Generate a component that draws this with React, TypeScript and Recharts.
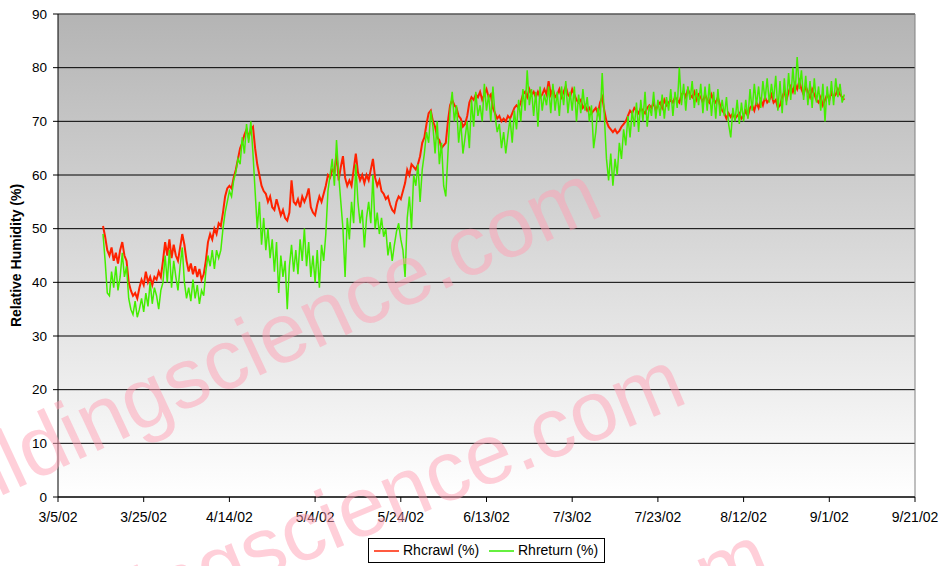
import React from 'react';
import { LineChart, Line, XAxis, YAxis, CartesianGrid, ReferenceLine } from 'recharts';

// half-day readings, first one on 3/15/02 noon (day 10.5 after 3/5/02)
const startDay = 10.5;
const stepDay = 0.5;

const xTicks = [0, 20, 40, 60, 80, 100, 120, 140, 160, 180, 200];
const xTickLabels = ['3/5/02', '3/25/02', '4/14/02', '5/4/02', '5/24/02', '6/13/02', '7/3/02', '7/23/02', '8/12/02', '9/1/02', '9/21/02'];
const yTicks = [0, 10, 20, 30, 40, 50, 60, 70, 80, 90];

const rhCrawl = [
  50.5, 48.5, 46, 45, 46.5, 44, 45.5, 43.5, 46, 47.5,
  45, 44, 40, 38.5, 37.5, 38, 37, 39, 40.5, 39.5,
  42, 40, 41, 39.5, 41, 40.5, 42, 41, 44, 47.5,
  45, 48, 44.5, 47, 45, 44, 46.5, 49, 47, 44,
  42, 43.5, 41.5, 43, 41, 42.5, 40.5, 41.5, 44, 47.5,
  49, 48, 50, 49, 51, 50.5, 53, 56, 57.5, 58,
  57.5, 59.5, 61, 63, 65, 66, 67.5, 68.5, 67, 68.5,
  69, 65, 62, 60, 58, 57, 56.5, 55, 56, 54,
  53.5, 55.5, 54, 52.5, 53.5, 52, 51.5, 53, 59, 55,
  54.5, 55.5, 54, 56, 55, 56, 57.5, 54, 53, 52.5,
  54.5, 56, 55, 56.5, 58, 60, 59.5, 61, 60.5, 64,
  59, 61.5, 63.5, 59.5, 58, 59, 58, 61, 64, 60.5,
  59, 60, 58.5, 60, 59, 61, 63, 59.5, 58, 59,
  57, 56.5, 55.5, 56, 54.5, 53.5, 53, 55, 56, 55.5,
  57, 58.5, 61, 60, 62, 61.5, 61, 62, 63.5, 66,
  67, 69.5, 71.5, 72, 70, 69, 67, 66.5, 65, 65.5,
  66, 70, 73, 74, 73, 72.5, 71, 70.5, 69, 69.5,
  71, 73.5, 74.5, 74, 75, 74.5, 75.5, 74, 75, 76,
  74.5, 75, 72.5, 71.5, 70.5, 71, 70, 70.5, 70, 71,
  70.5, 71.5, 72.5, 73, 72.5, 73.5, 75, 75.5, 74.5, 76,
  75, 75.5, 74.5, 75.5, 74.5, 75, 76, 75, 77.5, 75,
  76, 74.5, 75, 76, 74.5, 75.5, 76.5, 75, 74.5, 76,
  75, 74, 73.5, 74, 72.5, 73, 72, 72.5, 71.5, 72,
  72.5, 71.5, 73.5, 74.5, 72, 70, 69, 68.5, 68, 68.5,
  67.8, 68.2, 69, 69.5, 70, 71, 72, 71.5, 72.5, 72,
  71.5, 72.5, 72, 71.5, 72.5, 73, 72.5, 73.5, 72, 73,
  73.5, 72.5, 74, 73, 73.5, 74, 73.5, 74.5, 74, 73.5,
  75, 75.5, 74.5, 76, 75, 74.5, 75.5, 74, 75, 74.5,
  73.5, 75, 74, 73.5, 75, 74, 73.5, 74.5, 73, 72,
  71.5, 70.5, 71.5, 70.8, 71.5, 70.5, 71, 71.5, 70.5, 71,
  72, 71, 72.5, 73, 72, 73.5, 72.5, 74, 73, 74.5,
  73.5, 74, 75, 73.5, 74, 72.5, 73, 74.5, 75.5, 74,
  75.5, 76.5, 75.5, 77, 76, 77.5, 76, 75, 76.5, 75.5,
  74.5, 76, 75, 74, 73.5, 74.5, 73, 74, 75, 74,
  75.5, 74.5, 75, 76, 75, 74.5, 74,
];

const rhReturn = [
  49, 44, 38, 37.5, 42, 39, 43, 38.5, 41, 45.5,
  41, 43, 37, 35, 34, 36.5, 33.5, 35, 37, 34.5,
  38, 35.5, 40, 36, 39, 37.5, 35, 38.5, 40, 45,
  40, 46, 39, 44, 41, 38.5, 43, 46.5, 40, 37,
  39, 36.5, 40.5, 37, 39.5, 36, 38.5, 37.5, 42, 45,
  43, 46, 42.5, 46, 44.5, 46, 50, 53, 55, 57,
  56, 59, 60.5, 63, 62, 67, 64, 69.5, 66, 70,
  64, 57, 50, 55, 47, 52, 46, 50, 44.5, 48,
  42, 47.5, 38, 45, 41, 44, 35, 43, 47, 42,
  46, 41.5, 48, 44, 50, 43, 47.5, 41, 45, 40,
  46, 39, 47, 44, 49, 57, 60, 63, 58, 66.5,
  60, 55, 50, 41, 52, 48, 55, 51, 62, 55,
  51, 53.5, 46.5, 52, 55, 51, 60, 50, 53, 49,
  52, 48.5, 50, 45, 47.5, 44, 47, 49.5, 51, 48,
  46, 41, 52, 56, 50, 60, 58, 62, 55, 61,
  64, 68, 66, 72, 69, 64, 70, 62, 66, 58,
  56, 64, 72, 75.5, 70, 73, 66, 70, 64, 67,
  70, 65, 74, 69, 75.5, 71, 73, 70, 77, 72,
  75, 70, 76.5, 71, 68, 69.5, 65, 68, 64, 67.5,
  70.5, 66, 72, 68.5, 74, 70, 76, 72, 79.5, 73,
  76, 71, 75.5, 69, 76.5, 72, 75, 73, 76.5, 71.5,
  77, 72, 75.5, 71, 76.5, 73, 77.5, 71.5, 75.5, 72,
  76.5, 70, 75, 71.5, 76, 72, 74.5, 70, 73, 65,
  68, 72.5, 70, 79, 71, 63, 59, 64, 58, 63,
  60, 66, 63, 68.5, 65.5, 71, 67, 72, 69, 73.5,
  68, 74, 70, 75.5, 69, 73, 71, 75.5, 70.5, 74,
  71, 75, 70.5, 74.5, 72, 76, 71, 75.5, 72.5, 80,
  73, 77, 72, 76.5, 74, 77.5, 72.5, 76, 73, 77,
  71.5, 76.5, 72, 77, 71, 75.5, 70.5, 76, 71, 74,
  71, 74.5, 69.5, 67, 72.5, 70, 74, 69.5, 73.5, 70,
  74, 70.5, 76, 72, 77, 73, 76.5, 72.5, 77.5, 74,
  78, 73.5, 77, 74, 78.5, 72, 77.5, 71.5, 78, 73,
  79, 74, 80, 75, 82, 76, 79.5, 74, 78.5, 73,
  77.5, 72.5, 78, 73.5, 76.5, 72, 77, 70, 76.5, 73,
  77.5, 73, 78, 74.5, 77, 73.5, 75,
];

const data = rhCrawl.map((v, i) => ({
  day: startDay + i * stepDay,
  rhcrawl: v,
  rhreturn: rhReturn[i],
}));

const font = '"Liberation Sans", Arial, sans-serif';

function Watermark() {
  const wm = { fontSize: 85, fontFamily: font, fill: '#ff9fb4', fillOpacity: 0.5 };
  return (
    <svg width={943} height={566} style={{ position: 'absolute', left: 0, top: 0, pointerEvents: 'none' }}>
      <text x={606} y={214} textAnchor="end" transform="rotate(-25 606 214)" {...wm}>buildingscience.com</text>
      <text x={690} y={402} textAnchor="end" transform="rotate(-22.5 690 402)" {...wm}>buildingscience.com</text>
      <text x={775} y={577} textAnchor="end" transform="rotate(-22.5 775 577)" {...wm}>buildingscience.com</text>
    </svg>
  );
}

export default function App() {
  return (
    <div style={{ position: 'absolute', left: 0, top: 0, width: 943, height: 566, background: '#fff', fontFamily: font }}>
      <LineChart width={943} height={566} data={data} margin={{ top: 14, right: 28, bottom: 39, left: 0 }}>
        <defs>
          <linearGradient id="bgGrad" x1="0" y1="0" x2="0" y2="1">
            <stop offset="0%" stopColor="#b4b4b4" />
            <stop offset="100%" stopColor="#ffffff" />
          </linearGradient>
        </defs>
        <CartesianGrid vertical={false} stroke="#000" fill="url(#bgGrad)" fillOpacity={1} />
        <XAxis
          type="number"
          dataKey="day"
          domain={[0, 200]}
          ticks={xTicks}
          tickFormatter={(v) => xTickLabels[xTicks.indexOf(v)]}
          height={30}
          tickSize={5}
          tickMargin={10}
          stroke="#000"
          tick={{ fontSize: 14, fill: '#000', fontFamily: font }}
          interval={0}
        />
        <YAxis
          type="number"
          domain={[0, 90]}
          ticks={yTicks}
          width={58}
          tickSize={5}
          tickMargin={6}
          stroke="#000"
          tick={{ fontSize: 13.5, fill: '#000', fontFamily: font }}
          interval={0}
          label={{
            value: 'Relative Humidity (%)',
            angle: -90,
            position: 'insideLeft',
            offset: 16,
            style: { textAnchor: 'middle', fontWeight: 'bold', fontSize: 14, fill: '#000', fontFamily: font },
          }}
        />
        <ReferenceLine y={90} stroke="#808080" />
        <ReferenceLine x={200} stroke="#808080" />
        <Line type="linear" dataKey="rhcrawl" stroke="#ff2200" strokeWidth={2} dot={false} isAnimationActive={false} />
        <Line type="linear" dataKey="rhreturn" stroke="#44ee00" strokeWidth={1.5} dot={false} isAnimationActive={false} />
      </LineChart>
      <div
        style={{
          position: 'absolute',
          left: 368,
          top: 538,
          width: 235,
          height: 23,
          border: '1px solid #000',
          background: '#fff',
          fontSize: 14,
          fontFamily: font,
          color: '#000',
        }}
      >
        <div style={{ position: 'absolute', left: 5, top: 11, width: 25, height: 2, background: '#ff5a40' }} />
        <div style={{ position: 'absolute', left: 34, top: 3, lineHeight: '16px', whiteSpace: 'nowrap' }}>Rhcrawl (%)</div>
        <div style={{ position: 'absolute', left: 120, top: 11, width: 25, height: 2, background: '#66f040' }} />
        <div style={{ position: 'absolute', left: 149, top: 3, lineHeight: '16px', whiteSpace: 'nowrap' }}>Rhreturn (%)</div>
      </div>
      <Watermark />
    </div>
  );
}
